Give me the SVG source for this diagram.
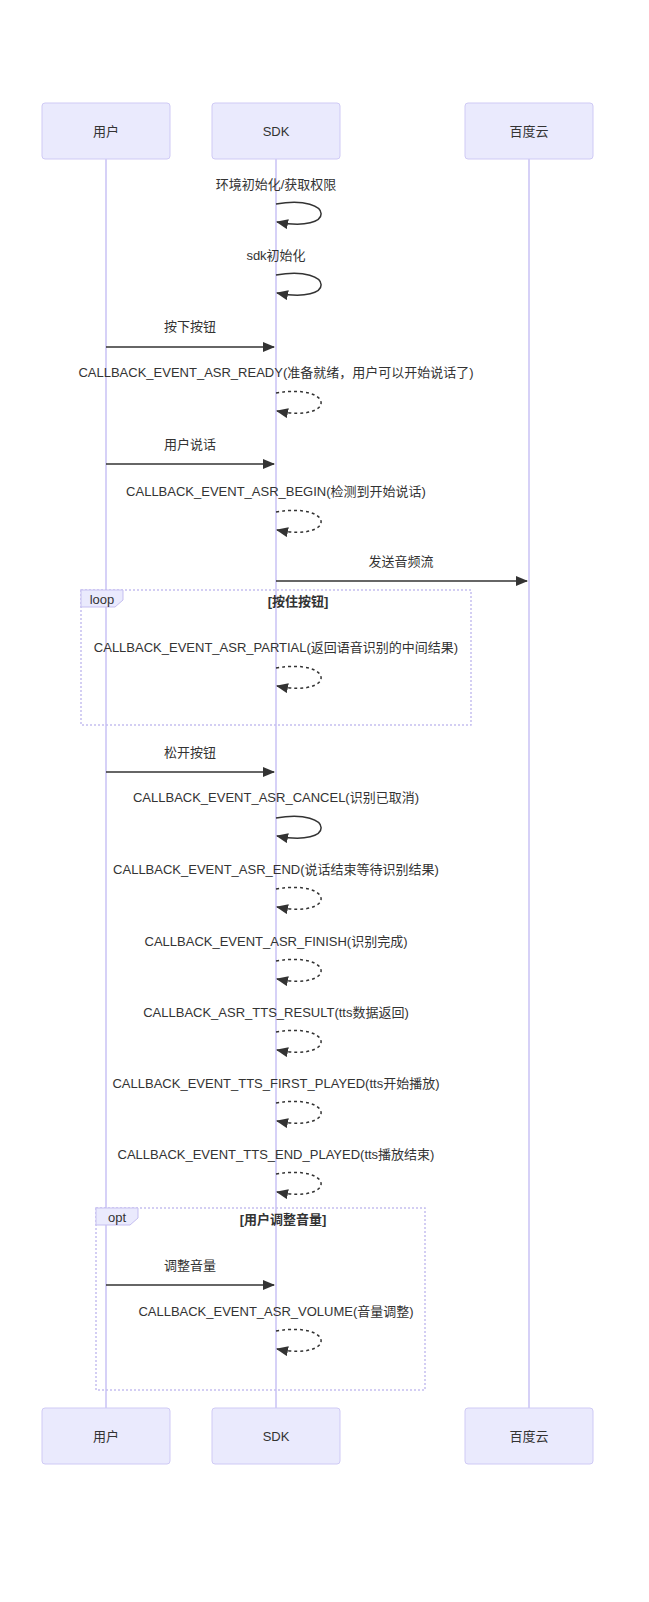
<svg xmlns="http://www.w3.org/2000/svg" width="649" height="1602" viewBox="0 0 649 1602">
<style>
text{font-family:"Liberation Sans","Noto Sans CJK SC",sans-serif;font-size:13px;fill:#333;text-anchor:middle}
.actor rect{fill:#eaeafd;stroke:#cfcaf5;stroke-width:1}
.life{stroke:#d6d1f7;stroke-width:2}
.msg{stroke:#333;stroke-width:1.5;fill:none}
.dash{stroke-dasharray:3,3}
.frame{fill:none;stroke:#c5bff0;stroke-width:1.5;stroke-dasharray:2,2}
.lbl{fill:#eaeafd;stroke:#c5bff0}
.b{font-weight:bold}
</style>
<defs>
<marker id="ah" viewBox="0 0 12 10" refX="11" refY="5" markerWidth="12" markerHeight="10" markerUnits="userSpaceOnUse" orient="auto"><path d="M0,0 L12,5 L0,10 z" fill="#333"/></marker>
</defs>
<g id="lifelines">
<line class="life" x1="106" y1="159" x2="106" y2="1408"/>
<line class="life" x1="276" y1="159" x2="276" y2="1408"/>
<line class="life" x1="529" y1="159" x2="529" y2="1408"/>
</g>
<g id="frame-loop">
<rect class="frame" x="81" y="590" width="390" height="135"/>
<path class="lbl" d="M81,590 H123 V600 L115,607 H81 Z"/>
<text x="102" y="604">loop</text>
<text class="b" x="298" y="606">[按住按钮]</text>
</g>
<g id="frame-opt">
<rect class="frame" x="96" y="1208" width="329" height="182"/>
<path class="lbl" d="M96,1208 H138 V1218 L130,1225 H96 Z"/>
<text x="117" y="1222">opt</text>
<text class="b" x="283" y="1224">[用户调整音量]</text>
</g>
<g id="actor-user-top" class="actor"><rect x="42" y="103" width="128" height="56" rx="3"/><text x="106" y="136">用户</text></g>
<g id="actor-sdk-top" class="actor"><rect x="212" y="103" width="128" height="56" rx="3"/><text x="276" y="136">SDK</text></g>
<g id="actor-cloud-top" class="actor"><rect x="465" y="103" width="128" height="56" rx="3"/><text x="529" y="136">百度云</text></g>
<g id="actor-user-bottom" class="actor"><rect x="42" y="1408" width="128" height="56" rx="3"/><text x="106" y="1441">用户</text></g>
<g id="actor-sdk-bottom" class="actor"><rect x="212" y="1408" width="128" height="56" rx="3"/><text x="276" y="1441">SDK</text></g>
<g id="actor-cloud-bottom" class="actor"><rect x="465" y="1408" width="128" height="56" rx="3"/><text x="529" y="1441">百度云</text></g>
<g id="connectors">
<path class="msg" marker-end="url(#ah)" d="M276,204 C336,194 336,234 277,222"/>
<path class="msg" marker-end="url(#ah)" d="M276,275 C336,265 336,305 277,293"/>
<line class="msg" marker-end="url(#ah)" x1="106" y1="347" x2="274" y2="347"/>
<path class="msg dash" marker-end="url(#ah)" d="M276,393 C336,383 336,423 277,411"/>
<line class="msg" marker-end="url(#ah)" x1="106" y1="464" x2="274" y2="464"/>
<path class="msg dash" marker-end="url(#ah)" d="M276,512 C336,502 336,542 277,530"/>
<line class="msg" marker-end="url(#ah)" x1="276" y1="581" x2="527" y2="581"/>
<path class="msg dash" marker-end="url(#ah)" d="M276,668 C336,658 336,698 277,686"/>
<line class="msg" marker-end="url(#ah)" x1="106" y1="772" x2="274" y2="772"/>
<path class="msg" marker-end="url(#ah)" d="M276,818 C336,808 336,848 277,836"/>
<path class="msg dash" marker-end="url(#ah)" d="M276,889 C336,879 336,919 277,907"/>
<path class="msg dash" marker-end="url(#ah)" d="M276,961 C336,951 336,991 277,979"/>
<path class="msg dash" marker-end="url(#ah)" d="M276,1032 C336,1022 336,1062 277,1050"/>
<path class="msg dash" marker-end="url(#ah)" d="M276,1103 C336,1093 336,1133 277,1121"/>
<path class="msg dash" marker-end="url(#ah)" d="M276,1174 C336,1164 336,1204 277,1192"/>
<line class="msg" marker-end="url(#ah)" x1="106" y1="1285" x2="274" y2="1285"/>
<path class="msg dash" marker-end="url(#ah)" d="M276,1331 C336,1321 336,1361 277,1349"/>
</g>
<g id="labels">
<text x="276" y="189">环境初始化/获取权限</text>
<text x="276" y="260">sdk初始化</text>
<text x="190" y="331">按下按钮</text>
<text x="276" y="377">CALLBACK_EVENT_ASR_READY(准备就绪，用户可以开始说话了)</text>
<text x="190" y="449">用户说话</text>
<text x="276" y="496">CALLBACK_EVENT_ASR_BEGIN(检测到开始说话)</text>
<text x="401" y="566">发送音频流</text>
<text x="276" y="652">CALLBACK_EVENT_ASR_PARTIAL(返回语音识别的中间结果)</text>
<text x="190" y="757">松开按钮</text>
<text x="276" y="802">CALLBACK_EVENT_ASR_CANCEL(识别已取消)</text>
<text x="276" y="874">CALLBACK_EVENT_ASR_END(说话结束等待识别结果)</text>
<text x="276" y="946">CALLBACK_EVENT_ASR_FINISH(识别完成)</text>
<text x="276" y="1017">CALLBACK_ASR_TTS_RESULT(tts数据返回)</text>
<text x="276" y="1088">CALLBACK_EVENT_TTS_FIRST_PLAYED(tts开始播放)</text>
<text x="276" y="1159">CALLBACK_EVENT_TTS_END_PLAYED(tts播放结束)</text>
<text x="190" y="1270">调整音量</text>
<text x="276" y="1316">CALLBACK_EVENT_ASR_VOLUME(音量调整)</text>
</g>
</svg>
